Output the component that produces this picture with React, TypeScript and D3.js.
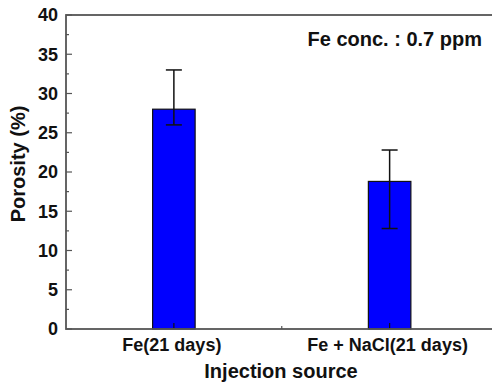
import { useEffect, useRef } from "react";
import * as d3 from "d3";

const categories = ["Fe(21 days)", "Fe + NaCl(21 days)"];
const porosity = [28, 18.8];
const errorHigh = [33, 22.8];
const errorLow = [26, 12.8];
const yTicks = [0, 5, 10, 15, 20, 25, 30, 35, 40];

export default function App() {
  const ref = useRef<SVGSVGElement>(null);

  useEffect(() => {
    if (!ref.current) return;
    const svg = d3.select(ref.current);
    svg.selectAll("*").remove();

    const width = 492;
    const height = 382;
    const left = 66;
    const top = 15;
    const bottom = 329;
    const axisColor = "#555";
    const font = "'Liberation Sans', Arial, sans-serif";

    // categories sit at 1, 2 on a 0.5..2.5 axis (right edge clipped, as in the original)
    const x = d3.scaleLinear().domain([0.5, 2.5]).range([left, 497.5]);
    const y = d3.scaleLinear().domain([0, 40]).range([bottom, top]);
    const barW = x(1.197) - x(1);

    const data = categories.map((c, i) => ({
      name: c,
      pos: i + 1,
      value: porosity[i],
      hi: errorHigh[i],
      lo: errorLow[i],
    }));

    // bars
    svg
      .append("g")
      .selectAll("rect")
      .data(data)
      .enter()
      .append("rect")
      .attr("x", (d) => x(d.pos) - barW / 2)
      .attr("y", (d) => y(d.value))
      .attr("width", barW)
      .attr("height", (d) => y(0) - y(d.value))
      .attr("fill", "#0000ff")
      .attr("stroke", "#111")
      .attr("stroke-width", 1.2);

    // error bars
    const err = svg.append("g").attr("stroke", "#111").attr("stroke-width", 1.5);
    data.forEach((d) => {
      const cx = x(d.pos);
      err.append("line").attr("x1", cx).attr("x2", cx).attr("y1", y(d.hi)).attr("y2", y(d.lo));
      err.append("line").attr("x1", cx - 8).attr("x2", cx + 8).attr("y1", y(d.hi)).attr("y2", y(d.hi));
      err.append("line").attr("x1", cx - 8).attr("x2", cx + 8).attr("y1", y(d.lo)).attr("y2", y(d.lo));
    });

    // y ticks (inward)
    const yAxis = svg.append("g");
    d3.range(0, 40.1, 2.5).forEach((v) => {
      const major = v % 5 === 0;
      yAxis
        .append("line")
        .attr("x1", left)
        .attr("x2", left + (major ? 6 : 3))
        .attr("y1", y(v))
        .attr("y2", y(v))
        .attr("stroke", axisColor)
        .attr("stroke-width", 1.2);
    });
    yAxis
      .selectAll("text")
      .data(yTicks)
      .enter()
      .append("text")
      .attr("x", left - 8)
      .attr("y", (d) => y(d))
      .attr("dy", "0.36em")
      .attr("text-anchor", "end")
      .attr("font-family", font)
      .attr("font-weight", "bold")
      .attr("font-size", "18px")
      .attr("fill", "#111")
      .text((d) => d);

    // x ticks (inward)
    const xAxis = svg.append("g");
    [1, 1.5, 2].forEach((v) => {
      const major = v % 1 === 0;
      xAxis
        .append("line")
        .attr("x1", x(v))
        .attr("x2", x(v))
        .attr("y1", bottom)
        .attr("y2", bottom - (major ? 6 : 3))
        .attr("stroke", major ? "#111" : axisColor)
        .attr("stroke-width", 1.2);
    });
    xAxis
      .selectAll("text")
      .data(data)
      .enter()
      .append("text")
      .attr("x", (d) => x(d.pos) - 2)
      .attr("y", 351)
      .attr("text-anchor", "middle")
      .attr("font-family", font)
      .attr("font-weight", "bold")
      .attr("font-size", "18px")
      .attr("fill", "#111")
      .text((d) => d.name);

    // frame
    svg
      .append("rect")
      .attr("x", left)
      .attr("y", top)
      .attr("width", x(2.5) - left)
      .attr("height", bottom - top)
      .attr("fill", "none")
      .attr("stroke", axisColor)
      .attr("stroke-width", 1.8);

    // axis titles
    svg
      .append("text")
      .attr("transform", `translate(25,164) rotate(-90)`)
      .attr("text-anchor", "middle")
      .attr("font-family", font)
      .attr("font-weight", "bold")
      .attr("font-size", "20px")
      .attr("fill", "#111")
      .text("Porosity (%)");

    svg
      .append("text")
      .attr("x", 281)
      .attr("y", 378)
      .attr("text-anchor", "middle")
      .attr("font-family", font)
      .attr("font-weight", "bold")
      .attr("font-size", "20px")
      .attr("fill", "#111")
      .text("Injection source");

    // annotation
    svg
      .append("text")
      .attr("x", 482)
      .attr("y", 46)
      .attr("text-anchor", "end")
      .attr("font-family", font)
      .attr("font-weight", "bold")
      .attr("font-size", "20px")
      .attr("fill", "#111")
      .text("Fe conc. : 0.7 ppm");

    svg.attr("width", width).attr("height", height);
  }, []);

  return (
    <div style={{ position: "fixed", left: 0, top: 0, background: "#fff" }}>
      <svg ref={ref} width={492} height={382} style={{ display: "block" }} />
    </div>
  );
}
